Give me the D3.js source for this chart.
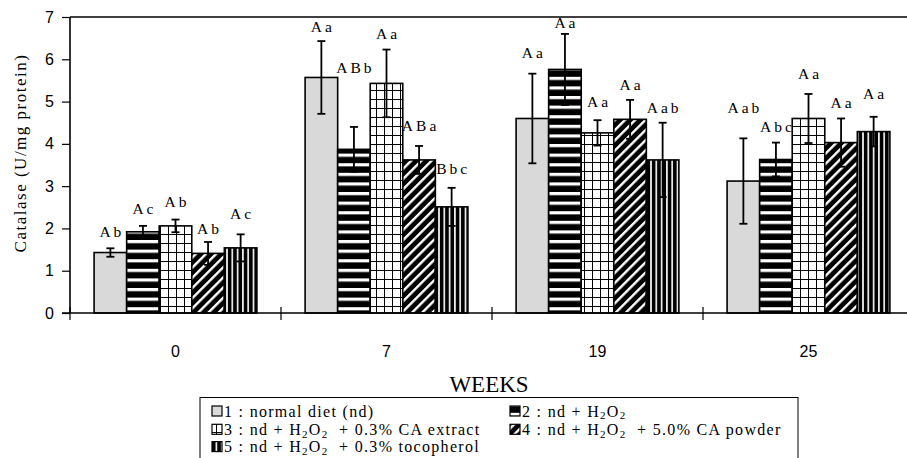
<!DOCTYPE html>
<html>
<head>
<meta charset="utf-8">
<script src="https://cdn.jsdelivr.net/npm/d3@7"></script>
<style>
  html, body { margin: 0; padding: 0; background: #fff; }
  svg { display: block; }
  .serif { font-family: "Liberation Serif", Tinos, "Times New Roman", Times, "DejaVu Serif", serif; }
  .sans { font-family: "Liberation Sans", Arimo, Arial, Helvetica, sans-serif; }
</style>
</head>
<body>
<svg id="chart" width="907" height="458"></svg>
<script>
// ---------------- data ----------------
const weeks = ["0", "7", "19", "25"];
const seriesKeys = ["1", "2", "3", "4", "5"];

const s1Mean = [1.43, 5.57, 4.60, 3.12];
const s2Mean = [1.92, 3.87, 5.76, 3.63];
const s3Mean = [2.06, 5.43, 4.26, 4.60];
const s4Mean = [1.41, 3.62, 4.58, 4.03];
const s5Mean = [1.54, 2.51, 3.62, 4.29];

const s1Err = [0.10, 0.86, 1.06, 1.01];
const s2Err = [0.14, 0.53, 0.84, 0.40];
const s3Err = [0.15, 0.80, 0.30, 0.58];
const s4Err = [0.27, 0.33, 0.46, 0.57];
const s5Err = [0.32, 0.45, 0.88, 0.35];

const s1Letters = ["Ab", "Aa", "Aa", "Aab"];
const s2Letters = ["Ac", "ABb", "Aa", "Abc"];
const s3Letters = ["Ab", "Aa", "Aa", "Aa"];
const s4Letters = ["Ab", "ABa", "Aa", "Aa"];
const s5Letters = ["Ac", "Bbc", "Aab", "Aa"];

// level (in U/mg protein) at which each letter label sits
const s1LetterLevel = [1.80, 6.65, 6.04, 4.72];
const s2LetterLevel = [2.33, 5.67, 6.75, 4.29];
const s3LetterLevel = [2.51, 6.49, 4.88, 5.53];
const s4LetterLevel = [1.88, 4.31, 5.27, 4.84];
const s5LetterLevel = [2.22, 3.28, 4.72, 5.06];

const yTicks = [0, 1, 2, 3, 4, 5, 6, 7];

const legendLabels = [
  [["1 : normal diet (nd)", false]],
  [["2 : nd + H", false], ["2", true], ["O", false], ["2", true]],
  [["3 : nd + H", false], ["2", true], ["O", false], ["2", true], ["  + 0.3% CA extract", false]],
  [["4 : nd + H", false], ["2", true], ["O", false], ["2", true], ["  + 5.0% CA powder", false]],
  [["5 : nd + H", false], ["2", true], ["O", false], ["2", true], ["  + 0.3% tocopherol", false]]
];

const means = [s1Mean, s2Mean, s3Mean, s4Mean, s5Mean];
const errs = [s1Err, s2Err, s3Err, s4Err, s5Err];
const letters = [s1Letters, s2Letters, s3Letters, s4Letters, s5Letters];
const levels = [s1LetterLevel, s2LetterLevel, s3LetterLevel, s4LetterLevel, s5LetterLevel];

const rows = [];
weeks.forEach((w, wi) => {
  seriesKeys.forEach((s, si) => {
    rows.push({ week: w, series: s, si, value: means[si][wi], err: errs[si][wi],
                letter: letters[si][wi], level: levels[si][wi] });
  });
});

// ---------------- layout ----------------
const svg = d3.select("#chart");
const plotLeft = 70, plotTop = 17, plotBottom = 313, plotRight = 914;

const y = d3.scaleLinear().domain([0, 7]).range([plotBottom, plotTop]);
const x0 = d3.scaleBand().domain(weeks).range([plotLeft, plotRight]).padding(0);
const x1 = d3.scaleBand().domain(seriesKeys).range([0, x0.bandwidth()]).paddingInner(0).paddingOuter(0.74);

// ---------------- patterns ----------------
const defs = svg.append("defs");
// 2: horizontal stripes
const p2 = defs.append("pattern").attr("id", "p2").attr("patternUnits", "userSpaceOnUse")
  .attr("width", 10).attr("height", 9.6);
p2.append("rect").attr("width", 10).attr("height", 9.6).attr("fill", "#000");
p2.append("rect").attr("y", 0).attr("width", 10).attr("height", 3.2).attr("fill", "#fff");
// 3: grid
const p3 = defs.append("pattern").attr("id", "p3").attr("patternUnits", "userSpaceOnUse")
  .attr("width", 8).attr("height", 9);
p3.append("rect").attr("width", 8).attr("height", 9).attr("fill", "#fff");
p3.append("rect").attr("x", 0).attr("width", 1).attr("height", 9).attr("fill", "#000");
p3.append("rect").attr("y", 0).attr("width", 8).attr("height", 1).attr("fill", "#000");
// 4: diagonal (white / lines on black)
const p4 = defs.append("pattern").attr("id", "p4").attr("patternUnits", "userSpaceOnUse")
  .attr("width", 7.2).attr("height", 7.2).attr("patternTransform", "rotate(45)");
p4.append("rect").attr("width", 7.2).attr("height", 7.2).attr("fill", "#000");
p4.append("rect").attr("width", 2.4).attr("height", 7.2).attr("fill", "#fff");
// 5: vertical stripes
const p5 = defs.append("pattern").attr("id", "p5").attr("patternUnits", "userSpaceOnUse")
  .attr("width", 5.3).attr("height", 10);
p5.append("rect").attr("width", 5.3).attr("height", 10).attr("fill", "#000");
p5.append("rect").attr("x", 3.6).attr("width", 1.6).attr("height", 10).attr("fill", "#fff");

const fills = { "1": "#d9d9d9", "2": "url(#p2)", "3": "url(#p3)", "4": "url(#p4)", "5": "url(#p5)" };

// ---------------- frame ----------------
svg.append("line").attr("x1", plotLeft).attr("x2", plotRight).attr("y1", y(7)).attr("y2", y(7))
  .attr("stroke", "#000").attr("stroke-width", 1.3);

// ---------------- bars ----------------
const g = svg.append("g");
g.selectAll("rect.bar").data(rows).join("rect")
  .attr("class", "bar")
  .attr("x", d => x0(d.week) + x1(d.series))
  .attr("y", d => y(d.value))
  .attr("width", x1.bandwidth())
  .attr("height", d => y(0) - y(d.value))
  .attr("fill", d => fills[d.series])
  .attr("stroke", "#000").attr("stroke-width", 1.6);

// error bars
const eb = g.selectAll("g.err").data(rows).join("g").attr("class", "err")
  .attr("stroke", "#000").attr("stroke-width", 1.8);
const cx = d => x0(d.week) + x1(d.series) + x1.bandwidth() / 2;
eb.append("line").attr("x1", cx).attr("x2", cx)
  .attr("y1", d => y(d.value - d.err)).attr("y2", d => y(d.value + d.err));
eb.append("line").attr("x1", d => cx(d) - 4).attr("x2", d => cx(d) + 4)
  .attr("y1", d => y(d.value + d.err)).attr("y2", d => y(d.value + d.err));
eb.append("line").attr("x1", d => cx(d) - 4).attr("x2", d => cx(d) + 4)
  .attr("y1", d => y(d.value - d.err)).attr("y2", d => y(d.value - d.err));

// letters
g.selectAll("text.letter").data(rows).join("text")
  .attr("class", "letter serif")
  .attr("x", d => cx(d) + 1.5)
  .attr("y", d => y(d.level))
  .attr("text-anchor", "middle")
  .attr("font-size", 15.5).attr("letter-spacing", 3)
  .attr("fill", "#000")
  .text(d => d.letter);

// ---------------- axes ----------------
const yAxis = svg.append("g").attr("transform", `translate(${plotLeft},0)`)
  .call(d3.axisLeft(y).tickValues(yTicks).tickSize(8).tickPadding(8).tickFormat(d3.format("d")));
yAxis.attr("font-family", null);
yAxis.select(".domain").attr("stroke", "#000").attr("stroke-width", 1.6).attr("d", `M0,${y(7)}V${y(0)}`);
yAxis.selectAll(".tick line").attr("stroke", "#000").attr("stroke-width", 1.2);
yAxis.selectAll(".tick text").attr("class", "sans").attr("font-size", 16).attr("fill", "#000");

const xAxis = svg.append("g").attr("transform", `translate(0,${plotBottom})`)
  .call(d3.axisBottom(x0).tickSize(0).tickPadding(33));
xAxis.attr("font-family", null);
xAxis.select(".domain").remove();
xAxis.selectAll(".tick text").attr("class", "sans").attr("font-size", 16).attr("fill", "#000");
svg.append("line").attr("x1", plotLeft - 8).attr("x2", plotRight).attr("y1", plotBottom).attr("y2", plotBottom)
  .attr("stroke", "#000").attr("stroke-width", 1.6);
// category boundary ticks
svg.append("g").selectAll("line").data(weeks.concat(["end"])).join("line")
  .attr("x1", d => d === "end" ? plotRight : x0(d))
  .attr("x2", d => d === "end" ? plotRight : x0(d))
  .attr("y1", plotBottom - 6).attr("y2", plotBottom + 7)
  .attr("stroke", "#000").attr("stroke-width", 1.2);

// axis titles
svg.append("text").attr("class", "serif").attr("transform", "translate(26,153) rotate(-90)")
  .attr("text-anchor", "middle").attr("font-size", 17)
  .attr("letter-spacing", 1.5).attr("fill", "#000")
  .text("Catalase (U/mg protein)");
svg.append("text").attr("class", "serif").attr("x", 489).attr("y", 392).attr("text-anchor", "middle")
  .attr("font-size", 23).attr("fill", "#000").text("WEEKS");

// ---------------- legend ----------------
const lg = svg.append("g");
lg.append("rect").attr("x", 200).attr("y", 397.5).attr("width", 598).attr("height", 80)
  .attr("fill", "#fff").attr("stroke", "#000").attr("stroke-width", 1);
const legendPos = [[212, 406], [510, 406], [212, 424.3], [510, 424.3], [212, 441.6]];
seriesKeys.forEach((s, i) => {
  const [lx, ly] = legendPos[i];
  lg.append("rect").attr("x", lx).attr("y", ly).attr("width", 10).attr("height", 10)
    .attr("fill", fills[s]).attr("stroke", "#000").attr("stroke-width", 1.2);
  const t = lg.append("text").attr("class", "serif").attr("x", lx + 12).attr("y", ly + 10.8)
    .attr("font-size", 16).attr("letter-spacing", 1.3).attr("fill", "#000")
    .style("white-space", "pre");
  legendLabels[i].forEach(([txt, sub]) => {
    if (sub) {
      t.append("tspan").attr("font-size", 11).attr("dy", 2.5).text(txt);
    } else {
      const ts = t.append("tspan").text(txt);
      if (t.selectAll("tspan").size() > 1) ts.attr("dy", -2.5);
    }
  });
});
</script>
</body>
</html>
